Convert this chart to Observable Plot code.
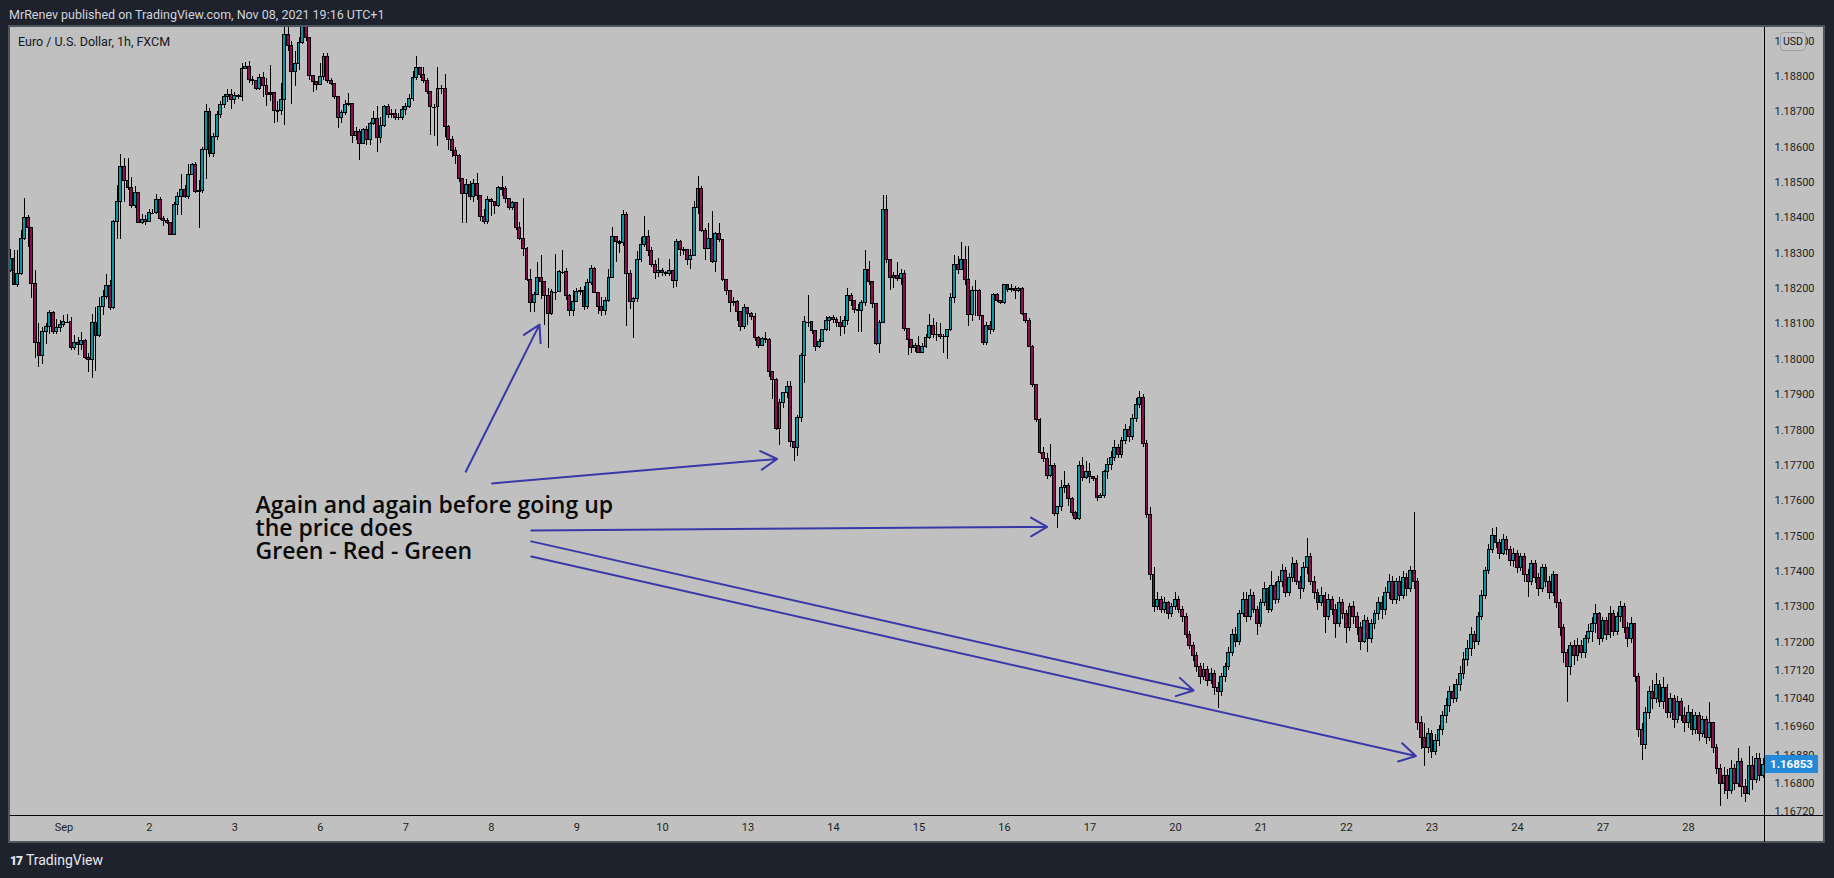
<!DOCTYPE html>
<html><head><meta charset="utf-8">
<script src="https://cdn.jsdelivr.net/npm/d3@7"></script>
<script src="https://cdn.jsdelivr.net/npm/@observablehq/plot@0.6"></script>
<style>
html,body{margin:0;padding:0;background:#1e222d;width:1834px;height:878px;overflow:hidden;font-family:Roboto,"Liberation Sans",sans-serif;}
#hdr{position:absolute;left:9px;top:7px;color:#d1d4dc;font-size:12.5px;white-space:nowrap}
#panel{position:absolute;left:8px;top:25px;width:1817px;height:818px;background:#c0c0c0;border:2px solid #50545f;box-sizing:border-box}
#chart{position:absolute;left:9px;top:27px;}
#legend{position:absolute;left:18px;top:34px;color:#131722;font-size:12.5px;white-space:nowrap}
#vline{position:absolute;left:1764px;top:27px;width:1px;height:815px;background:#000}
#hline{position:absolute;left:10px;top:815px;width:1813px;height:1px;background:#000}
#usd{position:absolute;left:1780px;top:32px;width:24px;height:17px;border:1px solid #9a9da5;border-radius:4px;background:#c4c4c4;color:#131722;font-size:10.5px;line-height:17px;text-align:center}
#last{position:absolute;left:1765px;width:53px;height:18px;background:#2388d8;color:#fff;font-weight:bold;font-size:11.5px;line-height:18px;text-align:center}
#tv{position:absolute;left:10px;top:852px;color:#e6e8ee;font-size:14px;white-space:nowrap}
#tv b{letter-spacing:-1px;margin-right:4px;font-weight:900;font-size:12px}
</style></head>
<body>
<div id="hdr">MrRenev published on TradingView.com, Nov 08, 2021 19:16 UTC+1</div>
<div id="panel"></div>
<div id="chart"></div>
<div id="legend">Euro / U.S. Dollar, 1h, FXCM</div>
<div id="tv"><b>17</b>TradingView</div>
<script>
// Prices stored as pips above BASE (price = BASE + v / 10000); one hourly bar per entry
const BASE = 1.16;
const firstOpen = 225.0;
const closeP = [
228.4,221.0,224.1,234.0,240.1,237.1,221.3,204.6,200.8,207.7,209.0,213.2,207.7,208.8,209.6,210.5,210.5,203.3,204.5,204.1,205.2,200.3,199.8,210.3,206.6,214.9,217.7,220.8,214.4,238.7,244.5,254.5,250.3,248.4,243.3,247.1,238.5,239.4,238.8,241.3,241.3,245.2,239.6,239.2,238.6,235.1,243.6,245.8,247.9,245.8,252.1,255.0,247.2,247.5,259.2,
270,258,263,269,272,274.1,
274.9,273.4,274.6,274.3,282.2,282.8,279.0,278.8,276.5,279.6,277.3,274.9,275.2,270.3,270.1,273.4,291.6,288.5,281.2,283.6,289.5,294.0,290.9,280.1,278.4,277.6,279.8,285.6,278.7,277.9,274.1,268.3,269.7,271.8,272.3,263.1,264.2,260.9,264.9,262.1,266.6,268.0,262.6,265.9,271.3,269.0,269.4,268.3,268.3,270.6,271.5,273.5,279.6,282.4,280.5,278.7,275.5,271.3,271.3,276.5,276.5,265.8,262.0,
259,257.5,
251.0,246.8,249.4,246.0,249.6,246.3,240.2,238.8,245.1,244.4,243.3,248.5,248.2,245.4,242.8,244.3,237.2,234.1,231.2,222.3,215.9,218.2,223.0,221.8,218.0,212.7,219.0,219.0,224.6,224.6,218.0,213.8,216.2,219.0,219.2,214.7,221.6,225.6,218.8,214.9,213.6,216.6,223.0,234.7,233.1,232.8,240.7,224.2,216.1,217.1,228.1,232.2,234.5,230.6,226.8,224.4,225.1,
224.3,224.2,225.1,222.1,233.1,231.0,230.9,228.1,229.3,242.8,248.2,236.4,231.1,234.1,227.5,235.5,233.8,222.5,219.3,216.0,216.2,213.3,209.2,214.5,212.7,212.1,206.1,203.7,205.8,205.6,196.3,194.2,180.3,187.7,190.4,192.1,176.5,174.9,183.4,201.0,210.5,210.5,207.9,203.6,204.9,208.3,210.8,211.7,211.1,210.2,209.1,210.8,217.9,216.6,214.0,213.8,216.0,225.4,221.8,215.7,204.4,210.2,
242.3,228.1,223.0,223.7,222.7,224.0,208.6,205.5,203.2,203.9,201.8,203.4,206.1,209.3,207.0,207.0,206.2,206.4,208.3,217.4,226.8,225.3,228.1,222.3,212.4,219.3,219.4,212.2,204.5,209.3,208.3,218.2,216.4,215.9,220.9,219.6,219.9,219.3,219.8,212.8,210.7,203.6,192.6,182.7,173.4,171.8,167.1,169.9,156.1,158.1,163.6,164.3,160.5,156.5,154.8,169.9,166.4,168.0,166.6,166.1,160.8,161.4,168.0,
170,172,175,173,177,180,178,183,187,189,
176,156,139,130,
132,129,131,128,130,132,129,127,
122,119,116,113,110,112,
109,111,107,106,110,
113,117,122,120,128,
132,127,133,129,125,131,135,129,136,132,
137,140,134,138,142,137,135,141,144,137,134,131,
133,127,132,129,125,131,128,124,130,127,
124,120,126,121,125,128,131,
129,134,137,132,137,133,138,135,140,137,
97,93,90,94,89,92,95,
99,102,106,104,108,111,
115,118,122,120,127,
133,140,146,150,
148,145,149,146,143,145,141,
144,139,137,142,138,135,141,137,134,139,
131,124,117,113,119,
116,119,117,121,123,
125,128,121,126,122,128,123,127,130,124,121,125,
110,95,91,
100,106,104,108,103,
107,100,104,98,103,99,97,
100,95,99,94,98,93,97,
90,84,80,82,
78,84,80,86,79,77,85,81,87,82,85.3
];
const highP = [
231.2,230.7,230.9,236.4,245.6,240.6,237.3,225,210,209,210,213.7,213.5,211.4,211,212.3,212.6,211.8,206.6,206.2,207.6,205.5,201.5,212.8,214.7,217.5,219.4,224.1,222.2,239.2,249.1,257.9,256.7,256.7,251.5,248.8,247.2,241.1,240.6,242.5,242.5,246.7,245.8,240.3,239.9,238.7,244.4,247.2,252.2,249.1,255,255.4,255.6,250.5,260,
272,271,264,270,273,275,
276.2,276.2,275.5,275.0,283.6,284.0,284.3,280.0,279.0,280.5,281.1,279.3,283.0,274.9,272.8,278.0,296.5,296.0,289.8,287.0,291.0,297.0,297.0,291.0,280.0,278.5,283.6,286.5,286.4,279.5,278.0,274.3,270.5,273.2,275.2,272.3,265.5,264.9,265.4,265.9,267.0,270.0,271.5,268.3,271.8,272.0,270.8,270.8,269.6,271.4,272.5,275.0,281.5,285.6,282.6,282.6,279.4,275.8,272.0,282.6,277.5,280.6,266.0,
263,260,
258.0,251.0,251.0,250.2,251.0,252.6,246.3,242.5,246.0,245.5,244.4,248.8,251.7,248.8,245.0,244.5,244.3,238.7,245.4,231.5,225.3,219.0,227.5,229.3,222.0,220.0,219.8,229.6,225.0,230.8,225.6,218.2,219.5,220.0,220.3,220.6,222.5,226.6,226.0,219.0,217.5,217.4,225.5,237.2,234.7,233.5,242.0,241.4,225.0,217.5,230.5,234.5,240.4,236.5,231.5,228.0,228.4,
225.6,224.8,228.1,225.1,234.0,233.5,231.5,231.0,231.0,244.6,251.7,248.9,237.0,238.5,241.7,235.8,238.3,234.0,222.5,219.5,217.5,216.5,213.3,215.5,214.5,213.3,213.0,206.5,206.2,207.5,206.0,196.5,194.5,188.6,190.5,193.6,193.8,176.0,184.0,201.5,212.2,218.0,210.5,208.0,205.5,208.5,212.0,212.2,212.5,211.7,212.0,212.0,220.0,218.5,216.5,215.5,216.6,230.8,227.6,222.0,215.8,211.0,
246.4,246.4,228.3,224.5,227.3,225.5,225.0,208.8,205.5,204.5,206.5,204.5,207.0,212.7,211.5,210.5,210.0,207.0,208.5,218.5,229.4,229.0,232.9,232.0,232.0,220.5,222.4,219.8,212.2,210.5,210.7,218.5,218.5,216.7,221.3,221.0,221.2,220.5,220.4,220.2,213.0,211.5,204.0,192.8,183.2,175.1,173.4,175.9,170.5,158.5,165.6,168.4,165.0,160.8,157.0,171.0,172.3,171.0,170.5,166.8,167.0,162.0,168.5,
172,174,177,176,178,181.5,181,184.5,189,191,
190,177,158,141,
134,133,132.5,131.5,131,134,133,130,
128,123,120,117,114,114,
113,112.5,112,108.5,111,
114,118.5,123.5,124,129,
134,134,135,134,130,132,137,135.5,140,137,
138.5,142,141,139.5,144,143,138.5,142.5,149.3,145,138.5,135,
135.5,134,133.5,133,130.5,132.5,132,129,131,131.5,
128.5,125.5,127.5,127,126.5,129,132.5,
133,135.5,139,138.5,138,138.5,140,139.5,141.5,156.6,
138,99,97,95.5,95,94,96.5,
100.5,104,107.5,108,109.5,113,
117,120.5,124,123,128.5,
134.5,141,147.5,152,
152.5,149,150.5,150,147,146.5,146,
145,145,140.5,143,143,139.5,142,142,138.5,140,
138.5,132,125,118,120,
120.5,121,120.5,122,125,
127,130.5,128.5,127,127,130,129,128.5,131.5,131,125.5,127,
125,111,97,
101.5,107.5,109,111,109,
110,108,105.5,105,104.5,104,101.5,
102,101,100,100,99,99,103,
97,91,85.5,84.5,
84,86.5,85.5,90,87,81,90.5,87.5,88.5,88.5,87
];
const lowP = [
224.5,220.8,220.3,223.6,233.5,231.7,217.3,200.3,197.7,198.6,204.3,207.1,207.1,207.1,207.5,209,210,202.4,202.4,201,202.4,200,196.3,194.7,196.6,206.2,212.3,217,213.7,214.2,234,234,244.4,247.7,242.8,242.8,238.3,238.1,237.8,238.7,240.9,240.9,239.2,237.5,238.2,235,235,240.6,240.6,245.5,245.3,251.9,246.9,237.1,247,
251,257,257,262,268,271,
272.7,270.6,272.0,273.5,273.0,282.0,278.0,277.4,276.0,276.0,274.0,271.5,273.0,266.8,267.0,269.0,266.1,287.0,272.0,277.3,281.7,289.0,290.0,279.0,275.4,276.0,277.6,279.0,278.0,277.5,273.5,265.3,266.7,269.0,271.5,261.0,262.0,256.3,261.0,260.4,260.5,266.0,258.4,261.0,265.5,268.0,268.0,267.5,267.6,267.5,269.0,271.0,273.0,279.0,279.5,278.0,275.0,263.3,263.0,260.3,275.0,262.7,259.0,
257,255,
250.0,238.3,238.3,245.0,244.3,245.0,238.9,238.0,238.0,240.5,241.0,243.0,246.0,244.0,242.0,242.0,236.5,233.5,229.0,222.0,213.3,213.1,218.0,217.0,209.7,203.1,212.3,216.6,219.0,224.0,216.6,212.0,212.0,216.0,218.0,213.8,214.0,221.0,218.5,212.6,212.0,212.3,216.0,223.0,227.5,230.0,232.0,209.3,214.0,206.0,216.0,227.5,231.5,229.0,226.0,222.5,223.0,
223.5,223.3,223.5,220.0,220.4,229.0,229.5,226.6,225.5,229.0,241.0,236.0,228.0,231.0,227.0,224.5,233.0,222.0,218.0,213.3,215.0,210.6,208.0,208.5,209.5,211.0,205.0,203.0,203.5,204.5,194.9,188.6,180.0,175.6,186.0,189.0,175.0,171.2,172.6,182.0,193.2,209.0,207.0,202.2,203.0,205.0,208.0,208.0,210.0,209.0,206.5,207.0,209.5,215.0,213.0,207.5,207.6,215.0,221.0,214.5,203.8,201.5,
210.0,227.0,219.4,220.0,222.0,221.0,208.0,201.0,201.5,202.0,201.5,201.5,203.0,205.5,206.0,205.0,205.5,201.5,200.0,208.0,215.9,224.0,225.0,221.0,209.3,210.8,212.0,211.0,203.8,204.0,207.0,207.5,216.0,215.5,215.6,219.0,218.8,216.9,219.0,212.5,210.0,203.2,191.9,182.0,173.0,170.9,166.0,166.7,155.5,152.2,157.0,162.0,158.5,155.5,154.5,154.4,165.5,166.0,165.0,165.5,159.8,160.5,160.5,
166,168.5,171,172,172,176,176.5,177,182,186,
175,155,137.5,128.5,
129,128,128,126.5,127,129,128,125.5,
121,118,114.5,111.5,108,109,
107.5,108,105,101.3,104.5,
108.5,112,116,118.5,119,
127,125.5,126,128,122,124,130,128,128.5,130.5,
131,135.5,132.5,133,137,136,132,134,139,136,132,129,
130,122.5,126,127.5,121,124,126.5,119.5,123,125,
122,117.5,119.5,117,119.5,123.5,126,
126.5,127.5,132,130.5,130.5,131.5,132,133,134,135,
95,89.5,84.8,88.5,87,88,90.5,
93.5,97,100,102.5,103,106,
109.5,113,116,118,119,
126,132,139,145,
146.5,143.5,144.5,144.5,141.5,141,139.5,
140,137,132.5,136,136.5,133,134,135.5,132,133,
129.5,121.5,114,103,110.5,
113.5,114.5,115.5,115.5,119.5,
120,122.5,119,120,120.5,121,121.5,122,125.5,122.5,118.5,119.5,
108.5,93,86.4,
89.5,98,101,102.5,101.5,
101,98.5,98.5,95.5,97,97.5,94.5,
95.5,93.5,94,92,93,91,92,
88.5,82.5,73.5,77,
75.5,77,78,79,76,74.5,76.5,78,80,80.5,81.5
];

// time axis: first bar of each trading day (bar index) and its label
const dayLabels = ["Sep","2","3","6","7","8","9","10","13","14","15","16","17","20","21","22","23","24","27","28"];
const firstDayBar = 15, barsPerDay = 24;
// price axis ticks
const priceTicks = [1.1672,1.1680,1.1688,1.1696,1.1704,1.1712,1.1720,1.1730,1.1740,1.1750,1.1760,1.1770,1.1780,1.1790,1.1800,1.1810,1.1820,1.1830,1.1840,1.1850,1.1860,1.1870,1.1880,1.1890];
// annotation arrows: [bar index, pips] start and end
const arrowFrom = [[127.8,168.2],[135.2,164.9],[146.2,151.6],[146.2,148.5],[146.2,144.2]];
const arrowTo   = [[148.5,209.8],[215.2,171.8],[291.0,152.6],[332.1,106.3],[394.5,87.8]];
const noteText = "Again and again before going up\nthe price does\nGreen - Red - Green";
const notePos = [68.8, 161.0];

const px = v => BASE + v / 10000;
const bars = closeP.map((c, i) => {
  const o = i === 0 ? firstOpen : closeP[i - 1];
  const h = Math.max(highP[i], o, c), l = Math.min(lowP[i], o, c);
  return {i, open: px(o), close: px(c), high: px(h), low: px(l), up: c >= o};
});
const dojis = bars.filter(b => Math.abs(b.close - b.open) < 0.00004);
const dayTicks = dayLabels.map((_, k) => firstDayBar + k * barsPerDay);
const dayMap = new Map(dayTicks.map((t, k) => [t, dayLabels[k]]));
const arrows = arrowFrom.map((f, k) => ({x1: f[0], y1: px(f[1]), x2: arrowTo[k][0], y2: px(arrowTo[k][1])}));

const W = 1814, H = 815;
const chart = Plot.plot({
  width: W, height: H,
  marginLeft: 1, marginRight: 59, marginTop: 0, marginBottom: 27,
  style: {background: "transparent", color: "#1e1e1e", fontFamily: "Roboto, 'Liberation Sans', sans-serif", fontSize: "11px"},
  x: {type: "linear", domain: [0.01, 492.35], axis: null},
  y: {type: "linear", domain: [1.167095, 1.189386], axis: null},
  marks: [
    Plot.ruleX(bars, {x: "i", y1: "low", y2: "high", stroke: "#000", strokeWidth: 1, clip: true, shapeRendering: "crispEdges"}),
    Plot.rect(bars, {x1: d => d.i - 0.4, x2: d => d.i + 0.4, y1: "open", y2: "close",
      fill: d => d.up ? "#0097a7" : "#880e4f", stroke: "#000", strokeWidth: 1, clip: true, shapeRendering: "crispEdges"}),
    Plot.ruleY(dojis, {y: "close", x1: d => d.i - 0.45, x2: d => d.i + 0.45, stroke: "#000", strokeWidth: 1.2, clip: true, shapeRendering: "crispEdges"}),
    Plot.arrow(arrows, {x1: "x1", y1: "y1", x2: "x2", y2: "y2", stroke: "#3a38a8", strokeWidth: 2, headLength: 14, headAngle: 60}),
    Plot.text([noteText], {x: () => notePos[0], y: () => px(notePos[1]), text: d => d, textAnchor: "start", lineAnchor: "top",
      fontSize: 23, fontWeight: 600, fontFamily: "'Open Sans', sans-serif", lineHeight: 0.99, fill: "#0a0a0a"}),
    Plot.axisY({ticks: priceTicks, anchor: "right", tickSize: 0, tickPadding: 10, tickFormat: d => d.toFixed(5), fontSize: 11, fill: "#1e1e1e"}),
    Plot.axisX({ticks: dayTicks, anchor: "bottom", tickSize: 0, tickPadding: 8, tickFormat: d => dayMap.get(d), fontSize: 11, fill: "#1e1e1e"})
  ]
});
document.getElementById("chart").appendChild(chart);

// overlays placed through the chart's own scales
const ys = chart.scale("y");
const last = bars[bars.length - 1];
const lastDiv = document.createElement("div");
lastDiv.id = "last";
lastDiv.style.top = (27 + ys.apply(last.close) - 9) + "px";
lastDiv.textContent = last.close.toFixed(5);
document.body.appendChild(lastDiv);
["vline", "hline"].forEach(id => { const d = document.createElement("div"); d.id = id; document.body.appendChild(d); });
const usd = document.createElement("div"); usd.id = "usd"; usd.textContent = "USD"; document.body.appendChild(usd);
</script>
</body></html>
